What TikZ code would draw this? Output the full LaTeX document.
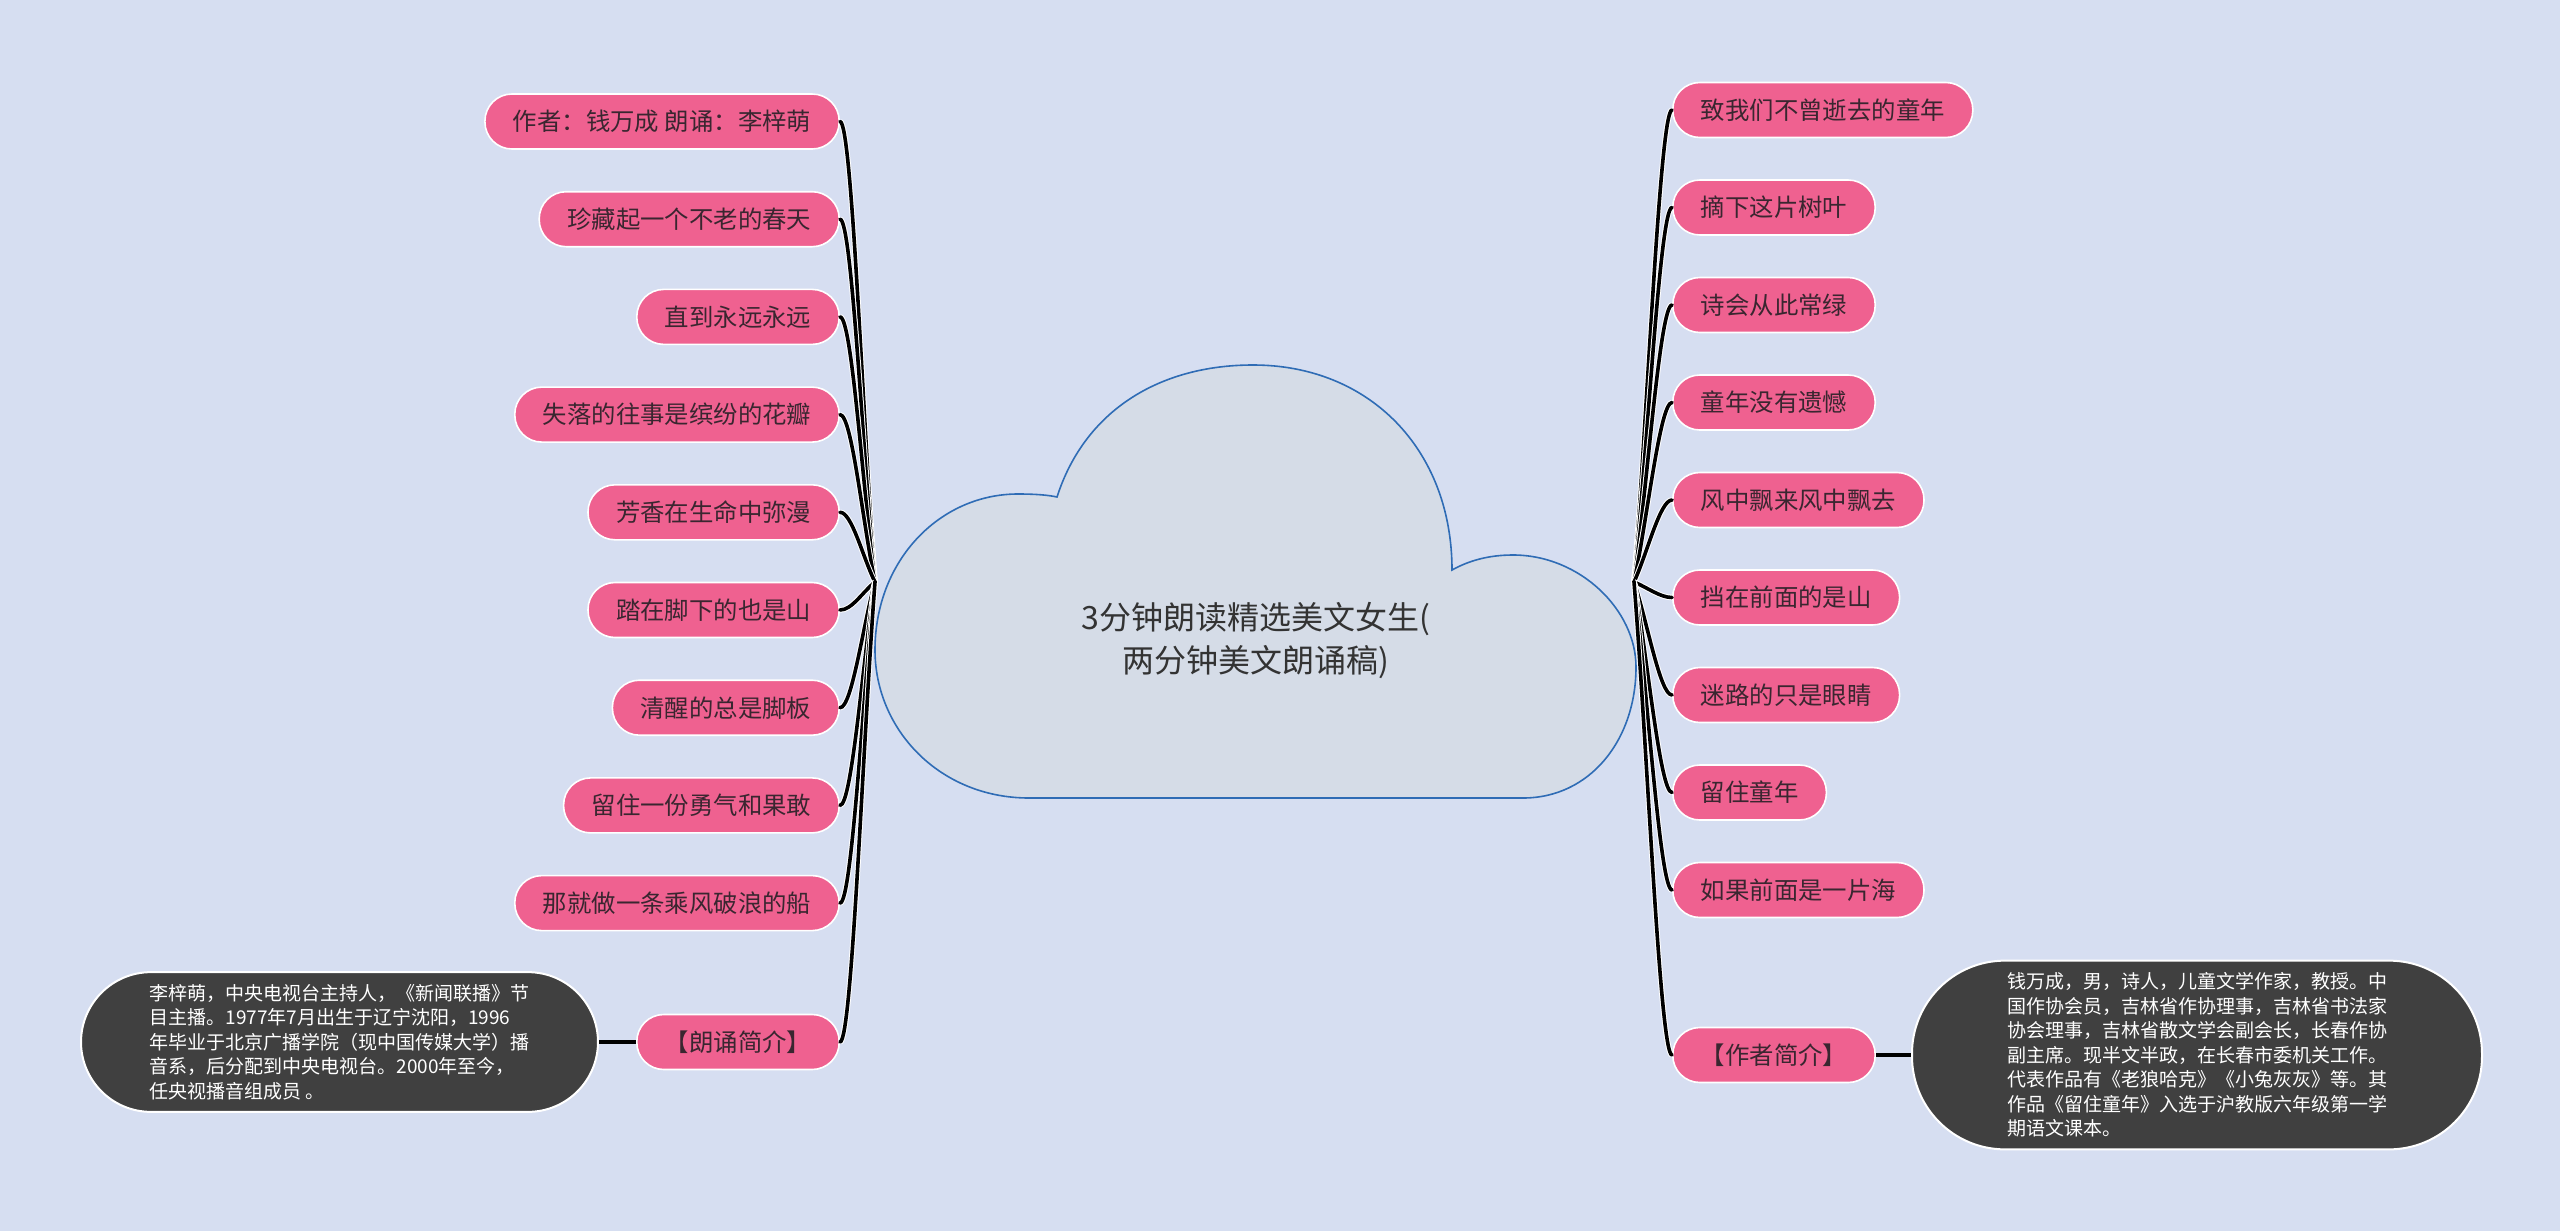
\documentclass[tikz,border=0pt]{standalone}
\usepackage{fontspec}
\setmainfont{Noto Sans CJK SC}
\usepackage{tikz}
\usetikzlibrary{positioning, calc}

\definecolor{fondo}{HTML}{D6DEF1}
\definecolor{rosa}{HTML}{EF6190}
\definecolor{textorosa}{HTML}{3A2630}
\definecolor{nube}{HTML}{D5DCE7}
\definecolor{bordenube}{HTML}{2F6CB5}
\definecolor{gris}{HTML}{404040}

\tikzset{
  hoja/.style={rectangle, rounded corners=13.5pt, draw=white, line width=0.8pt, fill=rosa, text=textorosa, font=\fontsize{12.2}{14}\selectfont, minimum height=27.5pt, inner xsep=14pt, inner ysep=0pt},
  bio/.style={rectangle, draw=white, line width=1pt, fill=gris, text=white, font=\fontsize{9.5}{12.25}\selectfont, align=left, inner ysep=6pt},
  raiz/.style={align=center, text=black!80, font=\fontsize{16}{21.5}\selectfont},
  rama/.style={line width=1.8pt, line cap=round, preaction={draw=white, line width=2.8pt}}
}

\begin{document}
\begin{tikzpicture}[x=0.5pt, y=-0.5pt]

    \fill[fondo] (0,0) rectangle (2560,1231);
    \useasboundingbox (0,0) rectangle (2560,1231);

    % Nube central
    \filldraw[fill=nube, draw=bordenube, line width=0.8pt]
      (1057,497) .. controls (1085,410) and (1160,365) .. (1253,365)
      .. controls (1370,365) and (1452,450) .. (1452,570)
      .. controls (1470,560) and (1490,555) .. (1513,555)
      .. controls (1580,555) and (1636,610) .. (1636,667)
      .. controls (1636,740) and (1590,798) .. (1523,798)
      -- (1029,798)
      .. controls (940,798) and (875,730) .. (875,650)
      .. controls (875,560) and (940,494) .. (1018,494)
      .. controls (1035,494) and (1048,495) .. cycle;
    \node[raiz] (raiz) at (1256,641) {3分钟朗读精选美文女生(\\两分钟美文朗诵稿)};

    \coordinate (nudoI) at (875,582);
    \coordinate (nudoD) at (1634,582);

    % Ramas del lado Izquierdo
    \foreach \i/\txt in {
        1/作者：钱万成 朗诵：李梓萌, 2/珍藏起一个不老的春天, 3/直到永远永远,
        4/失落的往事是缤纷的花瓣, 5/芳香在生命中弥漫, 6/踏在脚下的也是山,
        7/清醒的总是脚板, 8/留住一份勇气和果敢, 9/那就做一条乘风破浪的船
    } {
        \node[hoja, anchor=east] (I\i) at (840, {121.5+(\i-1)*97.7}) {\txt};
        \draw[rama] (nudoI) .. controls ($(nudoI)!.35!(I\i.east)$) and ([xshift=6pt]I\i.east) .. (I\i.east);
    }

    \node[hoja, anchor=east] (I10) at (840,1042) {【朗诵简介】};
    \draw[rama] (nudoI) .. controls ($(nudoI)!.35!(I10.east)$) and ([xshift=6pt]I10.east) .. (I10.east);
    \node[bio, inner xsep=34.25pt, rounded corners=35pt, left=18.5pt of I10] (bioI) {李梓萌，中央电视台主持人，《新闻联播》节\\目主播。1977年7月出生于辽宁沈阳，1996\\年毕业于北京广播学院（现中国传媒大学）播\\音系，后分配到中央电视台。2000年至今，\\任央视播音组成员 。};
    \draw[line width=2pt] (bioI.east) -- (I10.west);

    % Ramas del lado Derecho
    \foreach \i/\txt in {
        1/致我们不曾逝去的童年, 2/摘下这片树叶, 3/诗会从此常绿,
        4/童年没有遗憾, 5/风中飘来风中飘去, 6/挡在前面的是山,
        7/迷路的只是眼睛, 8/留住童年, 9/如果前面是一片海
    } {
        \node[hoja, anchor=west] (D\i) at (1672, {110+(\i-1)*97.5}) {\txt};
        \draw[rama] (nudoD) .. controls ($(nudoD)!.35!(D\i.west)$) and ([xshift=-6pt]D\i.west) .. (D\i.west);
    }

    \node[hoja, anchor=west] (D10) at (1672,1055) {【作者简介】};
    \draw[rama] (nudoD) .. controls ($(nudoD)!.35!(D10.west)$) and ([xshift=-6pt]D10.west) .. (D10.west);
    \node[bio, inner xsep=47.5pt, rounded corners=46.5pt, right=17.5pt of D10] (bioD) {钱万成，男，诗人，儿童文学作家，教授。中\\国作协会员，吉林省作协理事，吉林省书法家\\协会理事，吉林省散文学会副会长，长春作协\\副主席。现半文半政，在长春市委机关工作。\\代表作品有《老狼哈克》《小兔灰灰》等。其\\作品《留住童年》入选于沪教版六年级第一学\\期语文课本。};
    \draw[line width=2pt] (D10.east) -- (bioD.west);

\end{tikzpicture}
\end{document}
